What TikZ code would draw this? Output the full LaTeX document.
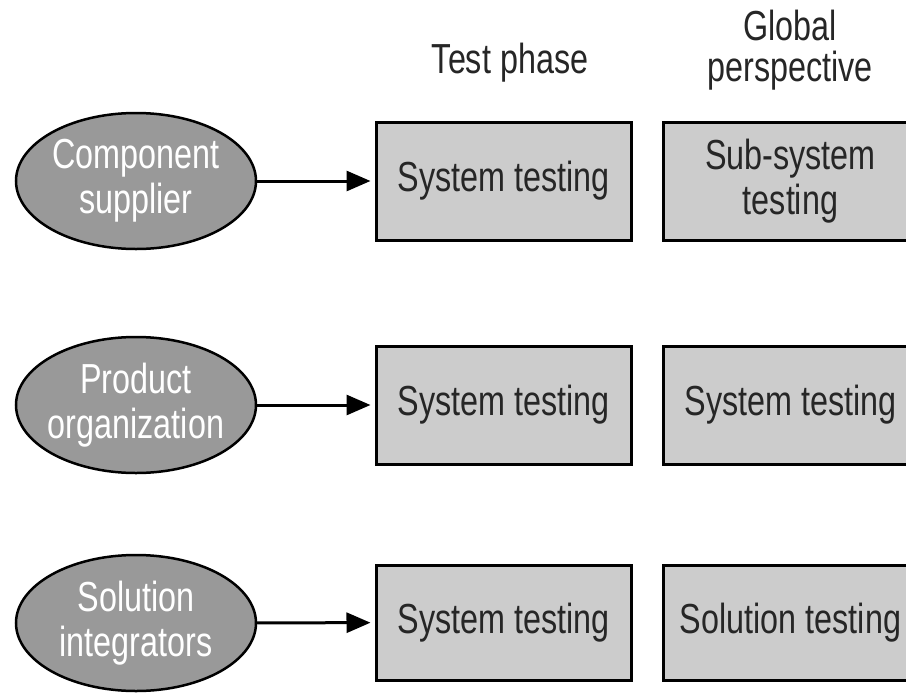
\documentclass[tikz,border=0pt]{standalone}
\usepackage{fontspec}
\setmainfont{Liberation Sans}[FakeStretch=0.77]
\usetikzlibrary{shapes.geometric,arrows.meta}
\tikzset{
  org/.style={ellipse, draw=black, line width=2.5pt, fill=orgfill,
    minimum width=240pt, minimum height=136pt, inner xsep=-40pt, inner ysep=-10pt,
    text=white, align=center, font=\fontsize{42}{45}\selectfont},
  phase/.style={rectangle, draw=black, line width=3pt, fill=boxfill,
    minimum width=255pt, minimum height=118pt, inner sep=0pt,
    text=black!85, align=center, font=\fontsize{42}{45}\selectfont},
  head/.style={align=center, font=\fontsize{42}{41}\selectfont, text=black!85},
  link/.style={line width=3pt, -{Triangle[length=24pt,width=20pt]}, shorten >=4pt}
}
\definecolor{orgfill}{HTML}{999999}
\definecolor{boxfill}{HTML}{CCCCCC}
\begin{document}
\begin{tikzpicture}[x=1pt,y=-1pt]
  \useasboundingbox (0,0) rectangle (906,694);
  \clip (0,0) rectangle (906,694);
  % column headings
  \node[head] (hphase) at (510,63) {Test phase};
  \node[head] (hglobal) at (790,50) {Global\\perspective};
  % organisations
  \node[org] (comp) at (136,181) {Component\\supplier};
  \node[org] (prod) at (136,405) {Product\\organization};
  \node[org] (sol)  at (136,623) {Solution\\integrators};
  % test phase boxes
  \node[phase] (p1) at (503.5,181) {System testing};
  \node[phase] (p2) at (503.5,405) {System testing};
  \node[phase, minimum height=115pt] (p3) at (503.5,622.5) {System testing};
  % global perspective boxes
  \node[phase] (g1) at (790.5,181) {Sub-system\\testing};
  \node[phase] (g2) at (790.5,405) {System testing};
  \node[phase, minimum height=115pt] (g3) at (790.5,622.5) {Solution testing};
  % connectors
  \draw[link] (comp) -- (p1);
  \draw[link] (prod) -- (p2);
  \draw[link] (sol) -- (p3);
\end{tikzpicture}
\end{document}
